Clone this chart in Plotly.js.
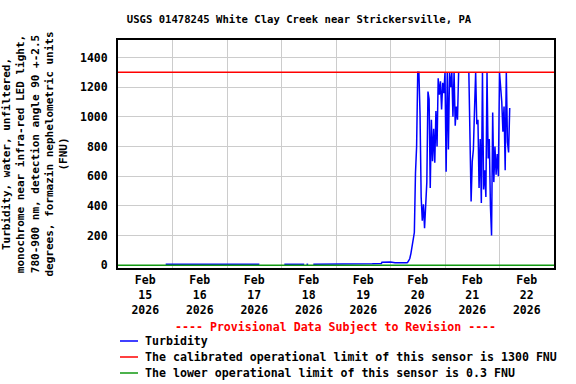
<!DOCTYPE html>
<html>
<head>
<meta charset="utf-8">
<script src="https://cdn.plot.ly/plotly-3.0.1.min.js"></script>
<style>
html,body{margin:0;padding:0;background:#fff;}
#chart{width:576px;height:384px;}
</style>
</head>
<body>
<div id="chart"></div>
<script>
// ---- Data ----
// Pre-storm turbidity readings (FNU); null marks gaps in the record
const preTimes = ['2026-02-15 21:00','2026-02-16 12:00','2026-02-17 00:00','2026-02-17 14:15','2026-02-17 14:30',
  '2026-02-18 01:15','2026-02-18 10:00','2026-02-18 10:15','2026-02-18 11:00','2026-02-18 11:45','2026-02-18 12:00',
  '2026-02-18 14:00','2026-02-19 07:30','2026-02-19 07:45','2026-02-19 12:00','2026-02-19 16:00','2026-02-19 20:00',
  '2026-02-19 20:15','2026-02-20 00:00','2026-02-20 02:00','2026-02-20 07:00'];
const preValues = [6,6,7,7,null,
  6,6,null,6,6,null,
  6,6,9,9,10,12,
  20,22,17,17];

// Storm period readings, every 30 minutes from stormStart (FNU); null = no data
const stormStart = '2026-02-20 07:30';
const stormStepMinutes = 30;
const stormValues = [18,30,45,80,130,175,220,620,800,1300,
  1300,1020,460,300,410,250,480,560,1170,1120,
  520,980,700,920,690,1040,800,1260,1150,1240,
  1050,1230,1160,1300,630,1300,780,1300,1200,1300,
  1000,1300,940,1070,980,1300,null,null,null,null,
  null,null,null,null,1300,900,430,700,780,1050,
  1300,950,980,520,850,420,1300,510,640,460,
  1300,720,850,400,200,1030,560,800,610,750,
  600,1300,1180,1100,900,1070,640,1300,830,760,
  1060];

// Sensor limits
const limitTimes = ['2026-02-15 00:00','2026-02-23 00:00'];
const upperLimit = [1300,1300];
const lowerLimit = [0.3,0.3];

// Axis ticks
const xTickVals = ['2026-02-15 12:00','2026-02-16 12:00','2026-02-17 12:00','2026-02-18 12:00',
  '2026-02-19 12:00','2026-02-20 12:00','2026-02-21 12:00','2026-02-22 12:00'];
const xTickText = ['Feb<br>15<br>2026','Feb<br>16<br>2026','Feb<br>17<br>2026','Feb<br>18<br>2026',
  'Feb<br>19<br>2026','Feb<br>20<br>2026','Feb<br>21<br>2026','Feb<br>22<br>2026'];
const xGridVals = ['2026-02-16','2026-02-17','2026-02-18','2026-02-19','2026-02-20','2026-02-21','2026-02-22'];
const yTickVals = [0,200,400,600,800,1000,1200,1400];

const legendLabels = ['Turbidity',
  'The calibrated operational limit of this sensor is 1300 FNU',
  'The lower operational limit of this sensor is 0.3 FNU'];
const legendColors = ['#0000ff','#ff0000','#119911'];

// ---- Build time series ----
function pad(n){return (n<10?'0':'')+n;}
function fmt(d){return d.getUTCFullYear()+'-'+pad(d.getUTCMonth()+1)+'-'+pad(d.getUTCDate())+' '+pad(d.getUTCHours())+':'+pad(d.getUTCMinutes());}
const t0 = new Date(stormStart.replace(' ','T')+':00Z').getTime();
const stormTimes = stormValues.map((v,i)=>fmt(new Date(t0 + i*stormStepMinutes*60000)));
const allTimes = preTimes.concat(stormTimes);
const allValues = preValues.concat(stormValues);

const FONT = 'DejaVu Sans Mono, Liberation Mono, monospace';

const traces = [
  {x: allTimes, y: allValues, type:'scatter', mode:'lines', name: legendLabels[0],
   line:{color:legendColors[0], width:1.5}, connectgaps:false},
  {x: limitTimes, y: upperLimit, type:'scatter', mode:'lines', name: legendLabels[1],
   line:{color:legendColors[1], width:1.5}},
  {x: limitTimes, y: lowerLimit, type:'scatter', mode:'lines', name: legendLabels[2],
   line:{color:legendColors[2], width:1.5}}
];

// manual legend (paper coordinates)
const L=118, R=554, T=40, B=268;
const W=R-L, H=B-T;
function px(x){return (x-L)/W;}
function py(y){return (B-y)/H;}
const legendRows = [341, 357, 373];
const shapes = legendRows.map((yy,i)=>({type:'line', xref:'paper', yref:'paper',
  x0:px(120), x1:px(138), y0:py(yy), y1:py(yy), line:{color:legendColors[i], width:1.5}}));
const annotations = legendRows.map((yy,i)=>({xref:'paper', yref:'paper', x:px(143), y:py(yy),
  xanchor:'left', yanchor:'middle', showarrow:false, text:legendLabels[i],
  font:{family:FONT, size:11.6, weight:'bold', color:'#000'}}));
annotations.push({xref:'paper', yref:'paper', x:px(335), y:py(327), xanchor:'center', yanchor:'middle',
  showarrow:false, text:'---- Provisional Data Subject to Revision ----',
  font:{family:FONT, size:11.6, weight:'bold', color:'#ff0000'}});

const layout = {
  width:576, height:384,
  margin:{l:L, r:576-R, t:T, b:384-B, pad:0},
  paper_bgcolor:'#fff', plot_bgcolor:'#fff',
  showlegend:false,
  title:{text:'USGS 01478245 White Clay Creek near Strickersville, PA',
    font:{family:FONT, size:10.6, weight:'bold', color:'#000'},
    x:299/576, xref:'container', xanchor:'center', y:1-19/384, yref:'container', yanchor:'middle'},
  xaxis:{type:'date', range:['2026-02-15 00:00','2026-02-23 00:00'],
    tickmode:'array', tickvals:xTickVals, ticktext:xTickText, showgrid:false, ticks:'',
    tickfont:{family:FONT, size:11.5, weight:'bold', color:'#000'},
    minor:{tickmode:'array', tickvals:xGridVals, showgrid:true, gridcolor:'#cccccc', gridwidth:1, ticks:''},
    showline:true, mirror:true, linecolor:'#000', linewidth:2, zeroline:false, fixedrange:true},
  yaxis:{range:[-19,1518], tickmode:'array', tickvals:yTickVals, showgrid:true, gridcolor:'#cccccc', gridwidth:1,
    ticks:'', ticklabelstandoff:6,
    tickfont:{family:FONT, size:11.5, weight:'bold', color:'#000'},
    showline:true, mirror:true, linecolor:'#000', linewidth:2, zeroline:false, fixedrange:true,
    title:{text:'Turbidity, water, unfiltered,<br>monochrome near infra-red LED light,<br>780-900 nm, detection angle 90 +-2.5<br>degrees, formazin nephelometric units<br>(FNU)',
      font:{family:FONT, size:11, weight:'bold', color:'#000'}, standoff:10}},
  shapes:shapes,
  annotations:annotations
};

Plotly.newPlot('chart', traces, layout, {staticPlot:true, displayModeBar:false});
</script>
</body>
</html>
